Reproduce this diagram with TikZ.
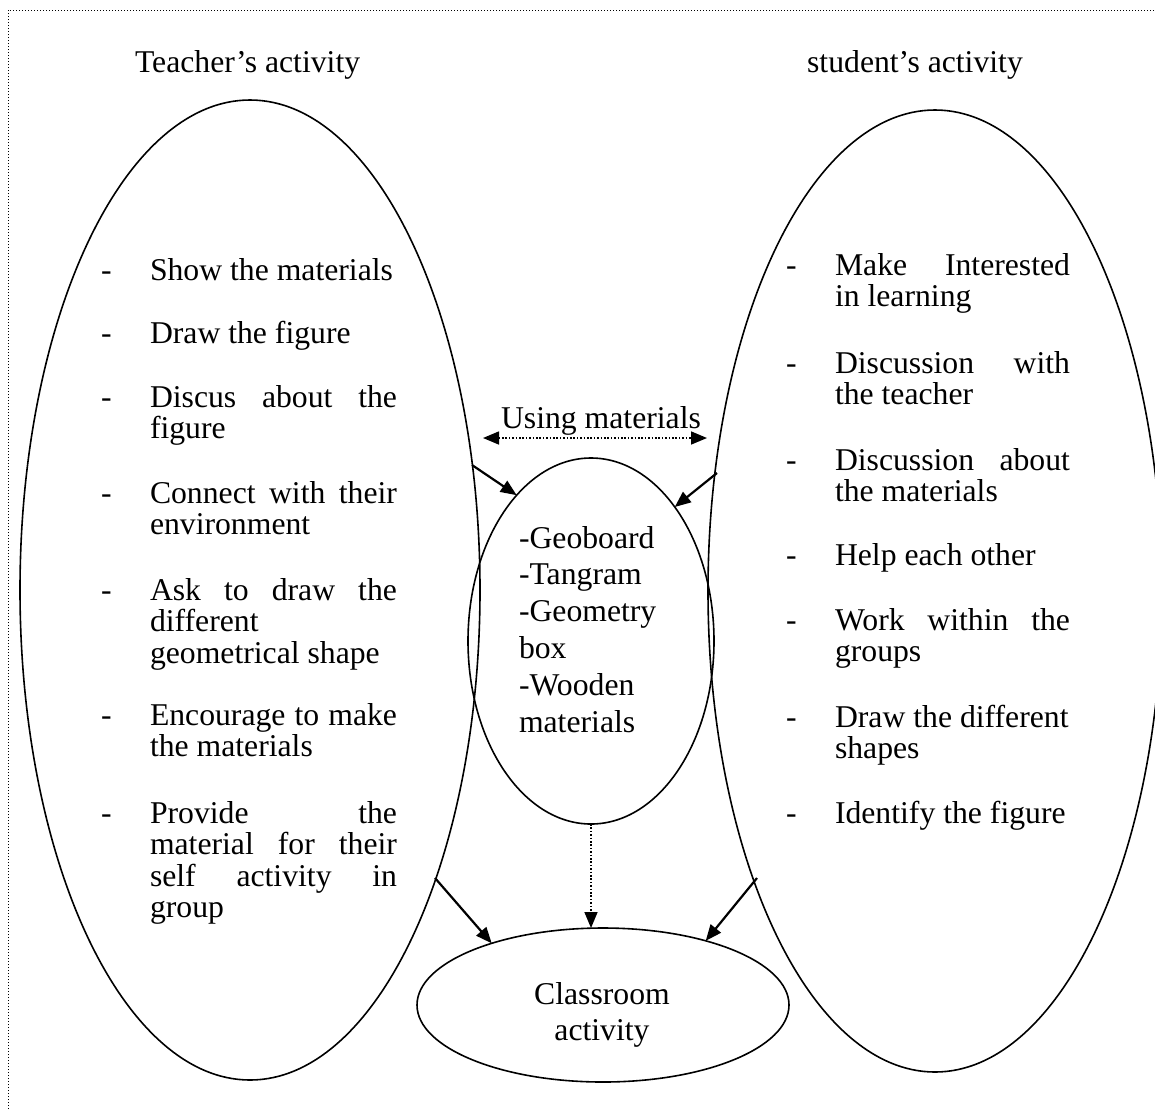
\documentclass[tikz,border=0pt]{standalone}
\usepackage{fontspec}
\setmainfont{Liberation Serif}
\usetikzlibrary{shapes.geometric,arrows.meta}
\newcommand{\jL}[1]{\makebox[247pt][s]{#1}}
\newcommand{\jR}[1]{\makebox[235pt][s]{#1}}
\begin{document}
\begin{tikzpicture}[x=1pt,y=-1pt,
  bubble/.style={ellipse, draw, line width=1.6pt, inner sep=0pt, outer sep=0pt},
  txt/.style={font=\fontsize{31.7}{31.5}\selectfont, inner sep=0pt, outer sep=0pt, align=left, anchor=base west},
  midtxt/.style={font=\fontsize{31.7}{36.8}\selectfont, inner sep=0pt, outer sep=0pt, align=left, anchor=base west},
  ctrtxt/.style={font=\fontsize{31.7}{36}\selectfont, inner sep=0pt, outer sep=0pt, align=center, anchor=base},
  link/.style={line width=2.2pt, -{Triangle[length=16pt,width=13pt]}},
  dotlink/.style={line width=1.6pt, dash pattern=on 1.6pt off 1.8pt},
  frame/.style={line width=0.9pt, dash pattern=on 1pt off 2pt}
]
\useasboundingbox (0,0) rectangle (1155,1109);
\draw[frame] (8,1109) -- (8,10) -- (1155,10);

% ellipses
\node[bubble, minimum width=460pt, minimum height=980pt] (L) at (250,590) {};
\node[bubble, minimum width=454pt, minimum height=962pt] (R) at (935,591) {};
\node[bubble, minimum width=246pt, minimum height=366pt] (M) at (591,641) {};
\node[bubble, minimum width=372pt, minimum height=154pt] (C) at (603,1005) {};

% headers
\node[txt] (th) at (135,72) {Teacher’s activity};
\node[txt, anchor=base] (sh) at (915,72) {student’s activity};

% left list (multi-line nodes are placed by the baseline of their last line)
\node[txt] (ld1) at (101,280) {-};
\node[txt] (lt1) at (150,280) {Show the materials};
\node[txt] (ld2) at (101,343) {-};
\node[txt] (lt2) at (150,343) {Draw the figure};
\node[txt] (ld3) at (101,407) {-};
\node[txt] (lt3) at (150,438.5) {\jL{Discus about the}\\figure};
\node[txt] (ld4) at (101,503) {-};
\node[txt] (lt4) at (150,534.5) {\jL{Connect with their}\\environment};
\node[txt] (ld5) at (101,600) {-};
\node[txt] (lt5) at (150,663) {\jL{Ask to draw the}\\different\\geometrical shape};
\node[txt] (ld6) at (101,725) {-};
\node[txt] (lt6) at (150,756.5) {\jL{Encourage to make}\\the materials};
\node[txt] (ld7) at (101,823) {-};
\node[txt] (lt7) at (150,917.5) {\jL{Provide the}\\\jL{material for their}\\\jL{self activity in}\\group};

% right list
\node[txt] (rd1) at (786,275) {-};
\node[txt] (rt1) at (835,306.5) {\jR{Make Interested}\\in learning};
\node[txt] (rd2) at (786,373) {-};
\node[txt] (rt2) at (835,404.5) {\jR{Discussion with}\\the teacher};
\node[txt] (rd3) at (786,470) {-};
\node[txt] (rt3) at (835,501.5) {\jR{Discussion about}\\the materials};
\node[txt] (rd4) at (786,565) {-};
\node[txt] (rt4) at (835,565) {Help each other};
\node[txt] (rd5) at (786,630) {-};
\node[txt] (rt5) at (835,661.5) {\jR{Work within the}\\groups};
\node[txt] (rd6) at (786,727) {-};
\node[txt] (rt6) at (835,758.5) {Draw the different\\shapes};
\node[txt] (rd7) at (786,823) {-};
\node[txt] (rt7) at (835,823) {Identify the figure};

% middle
\node[midtxt] (mt) at (519,732) {-Geoboard\\-Tangram\\-Geometry\\box\\-Wooden\\materials};
\node[ctrtxt] (ct) at (602,1040) {Classroom\\activity};
\node[ctrtxt] (ul) at (601,428) {Using materials};

% connectors
\coordinate (u1) at (483,438);
\coordinate (u2) at (707,438);
\draw[dotlink, {Triangle[length=16pt,width=13pt]}-{Triangle[length=16pt,width=13pt]}] (u1) -- (u2);
\coordinate (a1) at (472,465);
\coordinate (a2) at (717,473);
\coordinate (a3) at (435,878);
\coordinate (a4) at (757,878);
\draw[link] (a1) -- (M.117);
\draw[link] (a2) -- (M.58);
\draw[link] (a3) -- (C.151);
\draw[link] (a4) -- (C.32);
\draw[dotlink, -{Triangle[length=16pt,width=13pt]}] (M.south) -- (M.south |- C.north);
\end{tikzpicture}
\end{document}
